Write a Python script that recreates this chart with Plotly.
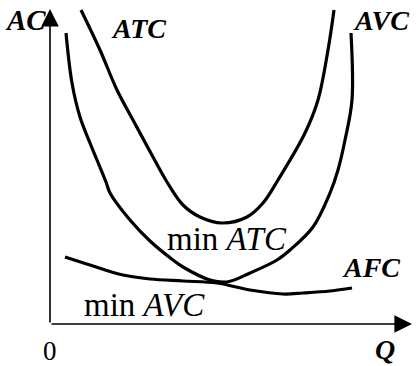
import plotly.graph_objects as go

# Values (Q = quantity, AC = average cost, arbitrary units)
atc_q = [3.1, 5.0, 6.7, 8.3, 10.3, 11.7, 13.3, 15.0, 17.2, 19.7, 21.3, 22.8, 25.5, 26.8, 27.8, 28.4]
atc_c = [31.4, 27.4, 23.4, 20.4, 16.7, 14.2, 11.9, 10.7, 10.1, 10.7, 12.1, 14.4, 19.1, 22.4, 27.4, 31.4]

avc_q = [1.6, 2.2, 3.0, 4.0, 4.7, 5.6, 6.0, 8.0, 10.0, 12.3, 13.3, 16.0, 17.7, 20.0, 22.7, 24.0, 26.3, 28.0, 28.8, 29.5, 30.2, 30.1]
avc_c = [29.1, 24.1, 20.7, 18.1, 16.4, 14.2, 13.1, 10.4, 8.3, 6.4, 5.7, 4.4, 4.2, 5.1, 6.4, 7.4, 9.7, 13.1, 15.4, 18.4, 22.4, 29.1]

afc_q = [1.5, 4.0, 7.3, 10.0, 13.3, 16.7, 20.0, 23.3, 25.3, 28.0, 30.2]
afc_c = [6.7, 5.9, 4.9, 4.5, 4.3, 4.1, 3.4, 3.0, 3.1, 3.3, 3.6]

q_axis_end = 36.2
ac_axis_end = 31.5

FONT = "Liberation Serif"

fig = go.Figure()
for xs, ys in [(atc_q, atc_c), (avc_q, avc_c), (afc_q, afc_c)]:
    fig.add_trace(go.Scatter(x=xs, y=ys, mode="lines",
                             line=dict(color="black", width=3.2, shape="spline", smoothing=1.0),
                             hoverinfo="skip", showlegend=False))

# axes with arrows
fig.add_annotation(x=q_axis_end, y=0, ax=0, ay=0, xref="x", yref="y", axref="x", ayref="y",
                   showarrow=True, arrowhead=2, arrowsize=2.2, arrowwidth=1.6, arrowcolor="black", text="")
fig.add_annotation(x=0, y=ac_axis_end, ax=0, ay=0, xref="x", yref="y", axref="x", ayref="y",
                   showarrow=True, arrowhead=2, arrowsize=2.2, arrowwidth=1.6, arrowcolor="black", text="")

labels = [
    ("<b><i>AC</i></b>", -2.5, 30.4, 29),
    ("<b><i>ATC</i></b>", 8.8, 29.6, 28),
    ("<b><i>AVC</i></b>", 33.1, 30.4, 28),
    ("min <i>ATC</i>", 17.7, 8.5, 33),
    ("min <i>AVC</i>", 9.4, 1.9, 33),
    ("<b><i>AFC</i></b>", 32.1, 5.7, 28),
    ("0", 0.0, -2.7, 27),
    ("<b><i>Q</i></b>", 33.5, -2.5, 28),
]
for txt, x, y, s in labels:
    fig.add_annotation(x=x, y=y, xref="x", yref="y", text=txt, showarrow=False,
                       font=dict(family=FONT, size=s, color="black"),
                       xanchor="center", yanchor="middle")

fig.update_layout(width=416, height=366, margin=dict(l=0, r=0, t=0, b=0),
                  paper_bgcolor="white", plot_bgcolor="white")
fig.update_xaxes(range=[-5, 36.6], visible=False, showgrid=False, zeroline=False)
fig.update_yaxes(range=[-4.2, 32.4], visible=False, showgrid=False, zeroline=False)

fig.write_html("out.html")
